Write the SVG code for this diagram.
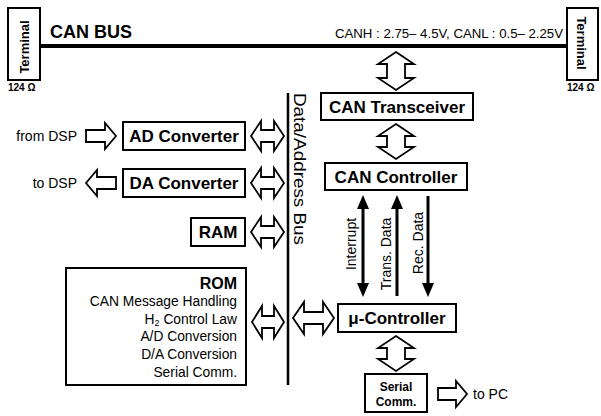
<svg xmlns="http://www.w3.org/2000/svg" width="601" height="416" viewBox="0 0 601 416">
<style>
.box{fill:#fff;stroke:#000;stroke-width:2}
.ha{fill:#fff;stroke:#000;stroke-width:1.8;stroke-linejoin:miter}
text{font-family:"Liberation Sans",Arial,sans-serif;fill:#000}
.lbl{font-size:17px;font-weight:bold;text-anchor:middle}
.reg{font-size:14px}
.rom{font-size:13.8px;text-anchor:end}
.rot{font-size:14px;text-anchor:middle}
.term{font-size:13px;font-weight:bold;text-anchor:middle}
.ohm{font-size:10px;font-weight:bold}
.wire{stroke:#000;stroke-width:3;fill:none}
</style>
<defs>
<marker id="ah" viewBox="0 0 14 12" refX="4" refY="6" markerWidth="14" markerHeight="12" markerUnits="userSpaceOnUse" orient="auto-start-reverse"><path d="M0,0 L14,6 L0,12 Z" fill="#000"/></marker>
</defs>

<g id="bus">
<line x1="40" y1="46" x2="567" y2="46" stroke="#000" stroke-width="4"/>
<text x="50" y="37.5" font-size="18" font-weight="bold">CAN BUS</text>
<text x="335" y="38" font-size="12.5" textLength="228" lengthAdjust="spacingAndGlyphs">CANH : 2.75– 4.5V, CANL : 0.5– 2.25V</text>
</g>

<g id="terminal-left">
<rect class="box" x="8" y="8" width="32" height="72"/>
<text class="term" transform="translate(29,47) rotate(-90)">Terminal</text>
<text class="ohm" x="8" y="91">124 Ω</text>
</g>

<g id="terminal-right">
<rect class="box" x="567" y="8" width="31" height="72"/>
<text class="term" transform="translate(577,43) rotate(90)">Terminal</text>
<text class="ohm" x="567" y="91">124 Ω</text>
</g>

<g id="data-address-bus">
<line x1="288" y1="93" x2="288" y2="385" stroke="#000" stroke-width="2.5"/>
<text transform="translate(294,93) rotate(90)" font-size="16" textLength="152" lengthAdjust="spacingAndGlyphs">Data/Address Bus</text>
</g>

<g id="can-transceiver">
<rect class="box" x="321" y="93" width="152" height="27"/>
<text class="lbl" x="397" y="113">CAN Transceiver</text>
</g>

<g id="can-controller">
<rect class="box" x="325" y="163" width="142" height="27"/>
<text class="lbl" x="396" y="183">CAN Controller</text>
</g>

<g id="ad-converter">
<rect class="box" x="123" y="122" width="122" height="28"/>
<text class="lbl" x="184" y="142">AD Converter</text>
</g>

<g id="da-converter">
<rect class="box" x="123" y="169" width="122" height="28"/>
<text class="lbl" x="184" y="189">DA Converter</text>
</g>

<g id="ram">
<rect class="box" x="191" y="218" width="54" height="28"/>
<text class="lbl" x="218" y="238">RAM</text>
</g>

<g id="rom">
<rect class="box" x="66" y="268" width="180" height="117"/>
<text x="237" y="289" font-size="16" font-weight="bold" text-anchor="end">ROM</text>
<text class="rom" x="237" y="306">CAN Message Handling</text>
<text class="rom" x="237" y="324">H<tspan font-size="9" dy="2">2</tspan><tspan dy="-2"> Control Law</tspan></text>
<text class="rom" x="237" y="341">A/D Conversion</text>
<text class="rom" x="237" y="359">D/A Conversion</text>
<text class="rom" x="237" y="377">Serial Comm.</text>
</g>

<g id="mu-controller">
<rect class="box" x="338" y="304" width="118" height="28"/>
<text class="lbl" x="397" y="324">μ-Controller</text>
</g>

<g id="serial-comm">
<rect class="box" x="365" y="374" width="62" height="38"/>
<text x="396" y="391" font-size="12" font-weight="bold" text-anchor="middle">Serial</text>
<text x="396" y="406" font-size="12" font-weight="bold" text-anchor="middle">Comm.</text>
</g>

<g id="external-labels">
<text class="reg" x="77" y="141" text-anchor="end">from DSP</text>
<text class="reg" x="77" y="188" text-anchor="end">to DSP</text>
<text class="reg" x="473" y="399">to PC</text>
</g>

<g id="connectors">
<path class="ha" d="M396,52 L414,64 L405,64 L405,78 L414,78 L396,90 L378,78 L387,78 L387,64 L378,64 Z"/>
<path class="ha" d="M396,124 L414,136 L405,136 L405,147 L414,147 L396,159 L378,147 L387,147 L387,136 L378,136 Z"/>
<path class="ha" d="M396,336 L414,348 L405,348 L405,359 L414,359 L396,371 L378,359 L387,359 L387,348 L378,348 Z"/>
<path class="ha" d="M251,136 L261,121 L261,130 L274,130 L274,121 L284,136 L274,151 L274,142 L261,142 L261,151 Z"/>
<path class="ha" d="M251,183 L261,168 L261,177 L274,177 L274,168 L284,183 L274,198 L274,189 L261,189 L261,198 Z"/>
<path class="ha" d="M251,232 L261,217 L261,226 L274,226 L274,217 L284,232 L274,247 L274,238 L261,238 L261,247 Z"/>
<path class="ha" d="M252,322 L262,306 L262,316 L274,316 L274,306 L284,322 L274,338 L274,328 L262,328 L262,338 Z"/>
<path class="ha" d="M293,318 L304,302 L304,312 L323,312 L323,302 L334,318 L323,334 L323,324 L304,324 L304,334 Z"/>
<path class="ha" d="M86,130 L105,130 L105,123 L116,136 L105,149 L105,142 L86,142 Z"/>
<path class="ha" d="M116,177 L97,177 L97,170 L86,183 L97,196 L97,189 L116,189 Z"/>
<path class="ha" d="M438,388 L456,388 L456,381 L467,394 L456,407 L456,400 L438,400 Z"/>
<line class="wire" x1="363" y1="205" x2="363" y2="287" marker-start="url(#ah)" marker-end="url(#ah)"/>
<line class="wire" x1="397" y1="296" x2="397" y2="205" marker-end="url(#ah)"/>
<line class="wire" x1="428" y1="196" x2="428" y2="287" marker-end="url(#ah)"/>
<text class="rot" transform="translate(356,244) rotate(-90)">Interrupt</text>
<text class="rot" transform="translate(391,254) rotate(-90)">Trans. Data</text>
<text class="rot" transform="translate(423,243) rotate(-90)">Rec. Data</text>
</g>
</svg>
